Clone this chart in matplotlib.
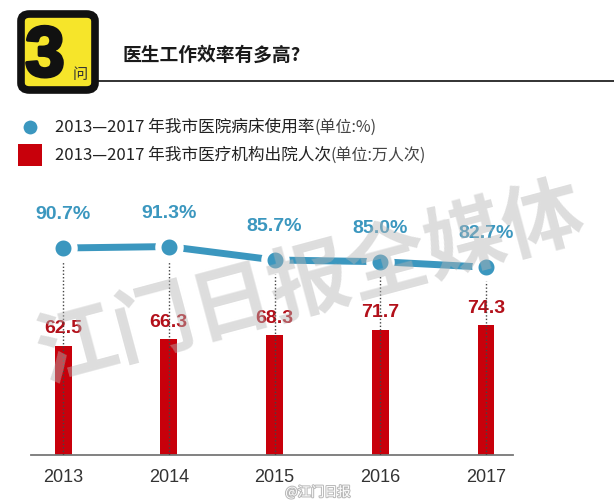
import numpy as np
import matplotlib.pyplot as plt
from matplotlib.patches import FancyBboxPatch, Rectangle
import matplotlib.patheffects as pe

plt.rcParams['font.family'] = ['Liberation Sans', 'Noto Sans CJK SC', 'DejaVu Sans']

# data
years = ['2013', '2014', '2015', '2016', '2017']
bed_rate = [90.7, 91.3, 85.7, 85.0, 82.7]        # 病床使用率 (%)
discharges = [62.5, 66.3, 68.3, 71.7, 74.3]      # 出院人次 (万人次)

title = '医生工作效率有多高?'
legend_rate = '2013—2017 年我市医院病床使用率'
legend_unit1 = '(单位:%)'
legend_dis = '2013—2017 年我市医疗机构出院人次'
legend_unit2 = '(单位:万人次)'
watermark = '江门日报全媒体'

BLUE = '#3b97bf'
RED = '#c8000b'
LABEL_RED = '#b3101a'

W, H = 614, 500
fig = plt.figure(figsize=(W / 100, H / 100), dpi=100)
fig.patch.set_facecolor('white')

def fx(px):
    return px / W

def fy(py):
    return 1 - py / H

cjk = ['Noto Sans CJK SC', 'DejaVu Sans']

# ---- header -----------------------------------------------------------
box = FancyBboxPatch((fx(21), fy(90)), fx(74), (76) / H,
                     boxstyle='round,pad=0,rounding_size=0.014',
                     transform=fig.transFigure, facecolor='#f6e52a',
                     edgecolor='#111111', linewidth=5.5, zorder=2)
fig.patches.append(box)
fig.text(fx(45), fy(76), '3', fontsize=51, fontweight='bold', color='#111111',
         ha='center', va='baseline', zorder=3,
         path_effects=[pe.withStroke(linewidth=2.5, foreground='#111111')])
fig.text(fx(80), fy(74), '问', fontsize=11, color='#333333', fontweight='light',
         family=['Noto Sans CJK SC'], ha='center', va='center', zorder=3)
fig.text(fx(123), fy(55), title, fontsize=13.5, fontweight='bold', color='#1a1a1a',
         family=cjk, ha='left', va='center')
fig.add_artist(plt.Line2D([fx(96), fx(614)], [fy(81), fy(81)],
                          transform=fig.transFigure, color='#222222', lw=1.3))

# ---- legend -----------------------------------------------------------
fig.add_artist(plt.Line2D([fx(30)], [fy(127)], transform=fig.transFigure,
                          marker='o', markersize=14, markerfacecolor=BLUE,
                          markeredgecolor='white', markeredgewidth=4))
fig.patches.append(Rectangle((fx(18), fy(166)), fx(24), 22 / H,
                             transform=fig.transFigure, facecolor=RED,
                             edgecolor='none'))
t1 = fig.text(fx(55), fy(127), legend_rate, fontsize=12, color='#222222',
              family=cjk, ha='left', va='center')
t2 = fig.text(fx(55), fy(155), legend_dis, fontsize=12, color='#222222',
              family=cjk, ha='left', va='center')
fig.canvas.draw()
r = fig.canvas.get_renderer()
for t, u, y in [(t1, legend_unit1, 127), (t2, legend_unit2, 155)]:
    bb = t.get_window_extent(r)
    fig.text(bb.x1 / W, fy(y), u, fontsize=11.5, color='#444444',
             family=cjk, ha='left', va='center')

# ---- chart ------------------------------------------------------------
x = np.arange(len(years))
ax = fig.add_axes([fx(31), fy(455), fx(513 - 31), 255 / H])
ax.set_xlim(-0.303, 4.255)
ax.set_ylim(0, 255 / 1.75)
ax.patch.set_alpha(0)

ax.bar(x, discharges, width=0.16, color=RED, zorder=2)
for xi, v in zip(x, discharges):
    ax.annotate(f'{v:.1f}', (xi, v), xytext=(0, 12), textcoords='offset points',
                ha='center', va='center', fontsize=14, fontweight='bold',
                color=LABEL_RED, zorder=5)

for s in ['top', 'right', 'left']:
    ax.spines[s].set_visible(False)
ax.spines['bottom'].set_color('#777777')
ax.spines['bottom'].set_linewidth(1.3)
ax.set_yticks([])
ax.set_xticks(x)
ax.set_xticklabels(years, fontsize=13, color='#333333')
ax.tick_params(axis='x', length=0, pad=10)

ax2 = ax.twinx()
lo = 90.7 - 207 / 2.4
ax2.set_ylim(lo, lo + 255 / 2.4)
ax2.axis('off')
ax2.vlines(x, lo, bed_rate, colors='#444444', linestyles=(0, (1, 1.5)),
           lw=1.0, zorder=3)
ax2.plot(x, bed_rate, color=BLUE, lw=5, zorder=4, solid_capstyle='butt')
ax2.plot(x, bed_rate, 'o', markersize=16, markerfacecolor=BLUE,
         markeredgecolor='white', markeredgewidth=4.5, zorder=5)
for xi, v in zip(x, bed_rate):
    ax2.annotate(f'{v:.1f}%', (xi, v), xytext=(0, 24), textcoords='offset points',
                 ha='center', va='center', fontsize=14, fontweight='bold',
                 color=BLUE, zorder=6)

# ---- watermarks -------------------------------------------------------
fig.text(fx(310), fy(285), watermark, fontsize=58, fontweight='black',
         color='#b5b5b5', alpha=0.45, rotation=15, ha='center', va='center',
         family=cjk, zorder=10)
fig.text(fx(318), fy(492), '@江门日报', fontsize=9.5, color='white',
         family=cjk, ha='center', va='center', zorder=10,
         path_effects=[pe.withStroke(linewidth=1.5, foreground='#bbbbbb')])

fig.savefig('out.png', dpi=100, facecolor='white')
